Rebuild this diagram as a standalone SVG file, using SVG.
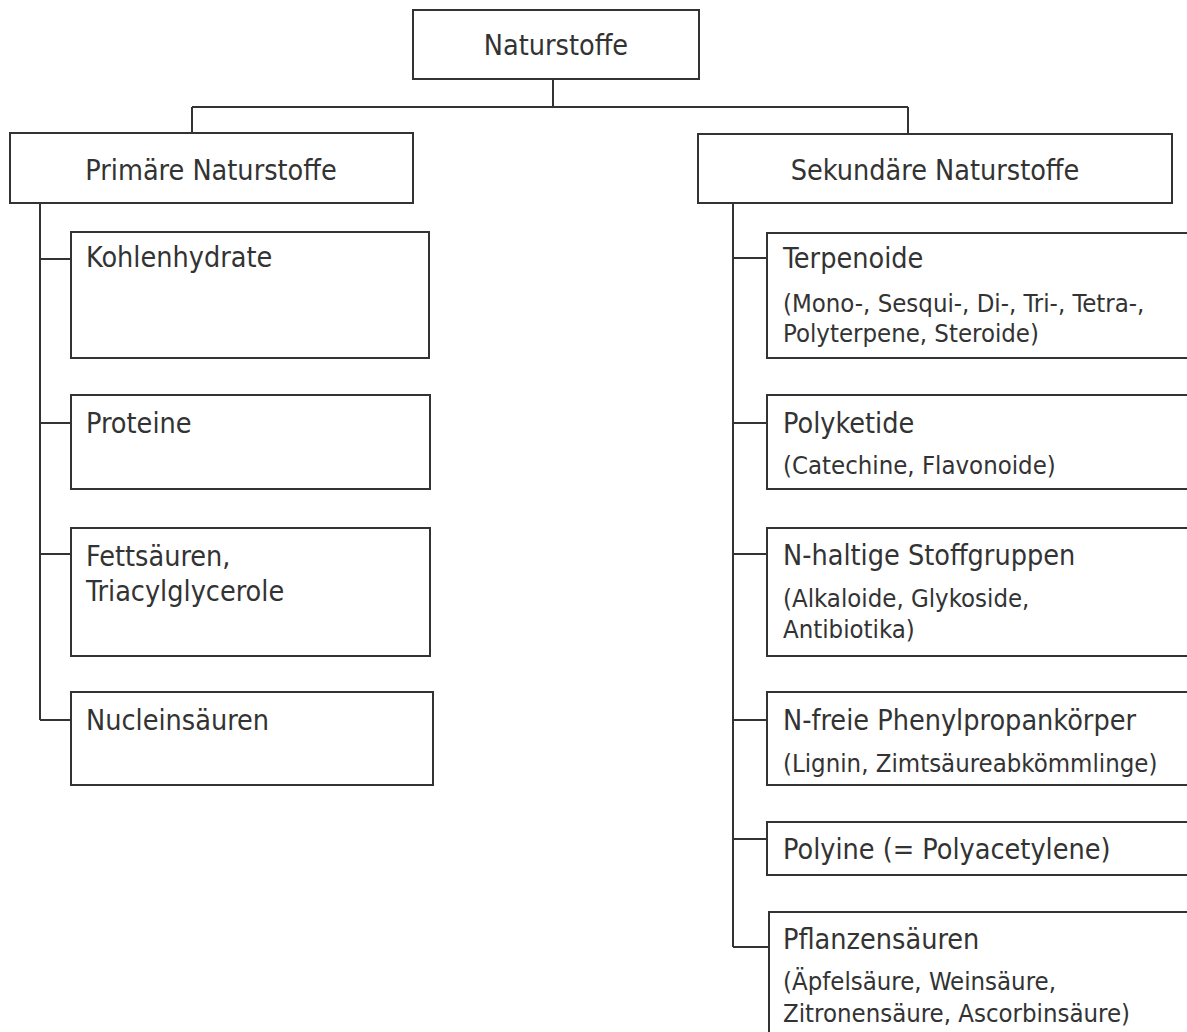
<svg xmlns="http://www.w3.org/2000/svg" width="1187" height="1032" viewBox="0 0 1187 1032">
<style>
.box{fill:#fff;stroke:#333;stroke-width:2}
.ln{fill:none;stroke:#333;stroke-width:2}
text{font-family:"DejaVu Sans Condensed","DejaVu Sans",sans-serif;fill:#333;font-size:28.5px}
.sub{font-size:25.5px}
.c{text-anchor:middle}
</style>
<rect width="1187" height="1032" fill="#fff"/>
<g id="connectors">
<path class="ln" d="M553,79V107M192,107H908M192,107V133M908,107V134"/>
<path class="ln" d="M40,203V720M40,259H71M40,423H71M40,554H71M40,720H71"/>
<path class="ln" d="M733,203V947M733,258H767M733,423H767M733,554H767M733,720H767M733,839H767M733,947H769"/>
</g>
<g id="naturstoffe"><rect class="box" x="413" y="10" width="286" height="69"/><text class="c" x="556" y="55">Naturstoffe</text></g>
<g id="primaere"><rect class="box" x="10" y="133" width="403" height="70"/><text class="c" x="211" y="180">Primäre Naturstoffe</text></g>
<g id="sekundaere"><rect class="box" x="698" y="134" width="474" height="69"/><text class="c" x="935" y="180">Sekundäre Naturstoffe</text></g>
<g id="kohlenhydrate"><rect class="box" x="71" y="232" width="358" height="126"/><text x="86" y="267">Kohlenhydrate</text></g>
<g id="proteine"><rect class="box" x="71" y="395" width="359" height="94"/><text x="86" y="433">Proteine</text></g>
<g id="fettsaeuren"><rect class="box" x="71" y="528" width="359" height="128"/><text x="86" y="566">Fettsäuren,</text><text x="86" y="601">Triacylglycerole</text></g>
<g id="nucleinsaeuren"><rect class="box" x="71" y="692" width="362" height="93"/><text x="86" y="730">Nucleinsäuren</text></g>
<g id="terpenoide"><rect class="box" x="767" y="233" width="440" height="125"/><text x="783" y="268">Terpenoide</text><text class="sub" x="783" y="312">(Mono-, Sesqui-, Di-, Tri-, Tetra-,</text><text class="sub" x="783" y="342">Polyterpene, Steroide)</text></g>
<g id="polyketide"><rect class="box" x="767" y="395" width="440" height="94"/><text x="783" y="433">Polyketide</text><text class="sub" x="783" y="474">(Catechine, Flavonoide)</text></g>
<g id="n-haltige"><rect class="box" x="767" y="528" width="440" height="128"/><text x="783" y="565">N-haltige Stoffgruppen</text><text class="sub" x="783" y="607">(Alkaloide, Glykoside,</text><text class="sub" x="783" y="638">Antibiotika)</text></g>
<g id="n-freie"><rect class="box" x="767" y="692" width="440" height="93"/><text x="783" y="730">N-freie Phenylpropankörper</text><text class="sub" x="783" y="772">(Lignin, Zimtsäureabkömmlinge)</text></g>
<g id="polyine"><rect class="box" x="767" y="822" width="440" height="53"/><text x="783" y="859">Polyine (= Polyacetylene)</text></g>
<g id="pflanzensaeuren"><rect class="box" x="769" y="912" width="440" height="140"/><text x="783" y="949">Pflanzensäuren</text><text class="sub" x="783" y="990">(Äpfelsäure, Weinsäure,</text><text class="sub" x="783" y="1022">Zitronensäure, Ascorbinsäure)</text></g>
</svg>
